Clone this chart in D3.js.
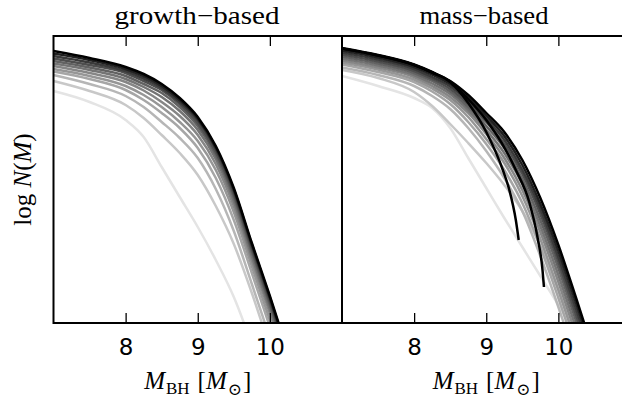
<!DOCTYPE html>
<html>
<head>
<meta charset="utf-8">
<script src="https://cdn.jsdelivr.net/npm/d3@7"></script>
<style>
  body { margin: 0; background: #fff; }
  text { fill: #000; }
</style>
</head>
<body>
<svg id="fig" width="622" height="398"></svg>
<script>
// log M_BH sample points shared by the full curves
const massGrid = [7.0, 7.5, 8.0, 8.25, 8.5, 8.75, 9.0, 9.25, 9.5, 9.75, 10.0, 10.25, 10.5];

// growth-based mass functions, log N(M), earliest (lightest) to latest (black)
const growthCurves = [
  [-2.82, -3.04, -3.40, -3.74, -4.34, -4.94, -5.54, -6.20, -6.94, -7.90, -9.00, -10.10, -11.20],
  [-2.62, -2.82, -3.10, -3.36, -3.70, -4.06, -4.50, -5.12, -5.88, -6.86, -7.94, -9.00, -10.06],
  [-2.50, -2.68, -2.92, -3.14, -3.44, -3.76, -4.16, -4.78, -5.62, -6.68, -7.76, -8.84, -9.92],
  [-2.43, -2.58, -2.80, -3.00, -3.26, -3.56, -3.96, -4.56, -5.40, -6.46, -7.54, -8.62, -9.72],
  [-2.38, -2.52, -2.72, -2.90, -3.14, -3.44, -3.82, -4.40, -5.24, -6.32, -7.40, -8.50, -9.60],
  [-2.32, -2.46, -2.64, -2.81, -3.04, -3.32, -3.70, -4.28, -5.12, -6.20, -7.26, -8.36, -9.48],
  [-2.27, -2.40, -2.58, -2.74, -2.94, -3.22, -3.60, -4.18, -5.02, -6.12, -7.18, -8.28, -9.40],
  [-2.22, -2.35, -2.52, -2.68, -2.86, -3.14, -3.52, -4.10, -4.94, -6.04, -7.10, -8.20, -9.32],
  [-2.17, -2.30, -2.46, -2.62, -2.80, -3.08, -3.46, -4.04, -4.88, -5.98, -7.04, -8.14, -9.26],
  [-2.12, -2.25, -2.42, -2.57, -2.76, -3.04, -3.40, -3.98, -4.82, -5.92, -6.98, -8.10, -9.22],
  [-2.07, -2.20, -2.38, -2.52, -2.72, -3.00, -3.37, -3.95, -4.79, -5.89, -6.95, -8.07, -9.18],
  [-2.02, -2.16, -2.34, -2.48, -2.68, -2.96, -3.34, -3.92, -4.76, -5.86, -6.92, -8.04, -9.16]
];

// mass-based mass functions, same ordering
const massCurves = [
  [-2.52, -2.72, -2.96, -3.16, -3.56, -4.16, -4.76, -5.36, -5.94, -6.52, -7.10, -7.70, -8.30],
  [-2.40, -2.56, -2.84, -3.12, -3.48, -3.86, -4.26, -4.70, -5.22, -5.92, -6.80, -7.84, -8.88],
  [-2.35, -2.50, -2.72, -2.92, -3.18, -3.56, -4.02, -4.56, -5.22, -6.12, -7.14, -8.22, -9.30],
  [-2.29, -2.44, -2.64, -2.83, -3.08, -3.44, -3.88, -4.40, -5.06, -5.94, -6.96, -8.04, -9.12],
  [-2.25, -2.39, -2.59, -2.77, -3.00, -3.34, -3.78, -4.26, -4.92, -5.78, -6.80, -7.88, -8.96],
  [-2.21, -2.35, -2.54, -2.72, -2.94, -3.26, -3.68, -4.16, -4.80, -5.64, -6.64, -7.72, -8.80],
  [-2.17, -2.31, -2.50, -2.67, -2.88, -3.20, -3.60, -4.06, -4.68, -5.52, -6.50, -7.58, -8.66],
  [-2.13, -2.27, -2.46, -2.62, -2.83, -3.14, -3.52, -3.96, -4.58, -5.40, -6.36, -7.44, -8.52],
  [-2.09, -2.23, -2.42, -2.58, -2.78, -3.08, -3.44, -3.88, -4.48, -5.28, -6.24, -7.32, -8.40],
  [-2.05, -2.19, -2.38, -2.54, -2.73, -3.02, -3.38, -3.80, -4.40, -5.18, -6.14, -7.20, -8.28],
  [-2.01, -2.15, -2.34, -2.49, -2.68, -2.96, -3.32, -3.72, -4.30, -5.08, -6.02, -7.08, -8.16],
  [-1.96, -2.10, -2.29, -2.44, -2.62, -2.90, -3.26, -3.64, -4.20, -4.96, -5.90, -6.98, -8.10]
];

// two mass-based runs that stop at their most massive hole
const shortRunMassA = [7.0, 7.5, 8.0, 8.25, 8.5, 8.75, 9.0, 9.23, 9.32, 9.41, 9.45];
const shortRunLogNA = [-1.97, -2.11, -2.30, -2.45, -2.64, -3.06, -3.64, -4.40, -4.80, -5.40, -5.80];
const shortRunMassB = [7.0, 7.5, 8.0, 8.25, 8.5, 8.75, 9.0, 9.27, 9.41, 9.6, 9.71, 9.78, 9.8];
const shortRunLogNB = [-1.97, -2.11, -2.30, -2.45, -2.63, -2.98, -3.40, -4.00, -4.40, -5.06, -5.74, -6.40, -6.74];

// gray level of each curve, earliest to latest
const grayLevels = [228, 200, 182, 166, 150, 134, 116, 98, 78, 58, 32, 0];

const xTicks = [8, 9, 10];
const panelTitles = ["growth\u2212based", "mass\u2212based"];

const svg = d3.select("#fig");
const plotTop = 36, plotBottom = 323;
const y = d3.scaleLinear().domain([-7.46, -1.72]).range([plotBottom, plotTop]);

const panels = [
  { left: 53.5, right: 342, title: panelTitles[0], titleX: 197, titleLen: 165,
    curves: growthCurves, extra: [] },
  { left: 342, right: 630.5, title: panelTitles[1], titleX: 484, titleLen: 129,
    curves: massCurves,
    extra: [d3.zip(shortRunMassA, shortRunLogNA), d3.zip(shortRunMassB, shortRunLogNB)] }
];

const defs = svg.append("defs");

panels.forEach((p, i) => {
  const x = d3.scaleLinear().domain([7, 11]).range([p.left, p.right]);
  const clipId = "clip" + i;
  defs.append("clipPath").attr("id", clipId)
    .append("rect").attr("x", p.left).attr("y", plotTop)
    .attr("width", p.right - p.left).attr("height", plotBottom - plotTop);

  const line = d3.line()
    .x(d => x(d[0])).y(d => y(d[1]))
    .curve(d3.curveMonotoneX);

  const g = svg.append("g").attr("clip-path", `url(#${clipId})`);
  p.curves.forEach((vals, k) => {
    const c = grayLevels[k];
    g.append("path")
      .datum(d3.zip(massGrid, vals))
      .attr("d", line)
      .attr("fill", "none")
      .attr("stroke", d3.rgb(c, c, c))
      .attr("stroke-width", 2.5)
      .attr("stroke-linejoin", "round");
  });
  p.extra.forEach(pts => {
    g.append("path")
      .datum(pts)
      .attr("d", line)
      .attr("fill", "none")
      .attr("stroke", "#000")
      .attr("stroke-width", 2.5)
      .attr("stroke-linecap", "butt");
  });

  // inward ticks on bottom and top
  const axB = svg.append("g").attr("transform", `translate(0,${plotBottom})`)
    .call(d3.axisBottom(x).tickValues(xTicks).tickSizeInner(-10).tickSizeOuter(0)
      .tickPadding(15.5).tickFormat(d3.format("d")));
  axB.select(".domain").remove();
  axB.selectAll(".tick line").attr("stroke", "#000").attr("stroke-width", 1.3);
  axB.selectAll(".tick text")
    .attr("font-family", "DejaVu Sans, sans-serif").attr("font-size", 23).attr("fill", "#000");

  const axT = svg.append("g").attr("transform", `translate(0,${plotTop})`)
    .call(d3.axisTop(x).tickValues(xTicks).tickSizeInner(-10).tickSizeOuter(0).tickFormat(""));
  axT.select(".domain").remove();
  axT.selectAll(".tick line").attr("stroke", "#000").attr("stroke-width", 1.3);

  // frame
  svg.append("rect")
    .attr("x", p.left).attr("y", plotTop)
    .attr("width", p.right - p.left).attr("height", plotBottom - plotTop)
    .attr("fill", "none").attr("stroke", "#000").attr("stroke-width", 2);

  // title
  svg.append("text")
    .attr("x", p.titleX).attr("y", 23.5)
    .attr("text-anchor", "middle")
    .style("font-family", "'Liberation Serif', 'Times New Roman', serif")
    .style("font-size", "25px")
    .attr("textLength", p.titleLen).attr("lengthAdjust", "spacingAndGlyphs")
    .text(p.title);

  // x label
  const xl = svg.append("text")
    .attr("x", (p.left + p.right) / 2).attr("y", 389)
    .attr("text-anchor", "middle")
    .style("font-family", "'Liberation Serif', 'Times New Roman', serif")
    .style("font-size", "25px");
  xl.append("tspan").attr("font-style", "italic").text("M");
  xl.append("tspan").style("font-size", "17px").attr("dy", 5).attr("dx", 1).text("BH");
  xl.append("tspan").attr("dy", -5).attr("dx", 8).text("[");
  xl.append("tspan").attr("font-style", "italic").text("M");
  xl.append("tspan").style("font-size", "17px").attr("dy", 6).attr("dx", 1)
    .style("font-family", "'DejaVu Serif', serif").text("\u2299");
  xl.append("tspan").attr("dy", -6).attr("dx", 1).text("]");
});

// y label
const yl = svg.append("text")
  .attr("transform", `translate(31,${(plotTop + plotBottom) / 2}) rotate(-90)`)
  .attr("text-anchor", "middle")
  .style("font-family", "'Liberation Serif', 'Times New Roman', serif")
  .style("font-size", "25px");
yl.append("tspan").text("log ");
yl.append("tspan").attr("font-style", "italic").text("N");
yl.append("tspan").text("(");
yl.append("tspan").attr("font-style", "italic").text("M");
yl.append("tspan").text(")");
</script>
</body>
</html>
